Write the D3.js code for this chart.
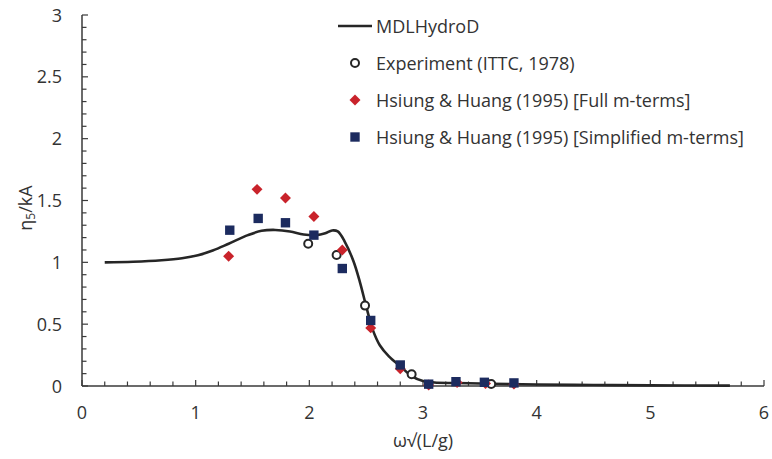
<!DOCTYPE html>
<html>
<head>
<meta charset="utf-8">
<script src="https://cdn.jsdelivr.net/npm/d3@7"></script>
<style>
  html, body { margin: 0; padding: 0; background: #fff; }
  svg { display: block; font-family: "Open Sans", "Noto Sans", sans-serif; }
</style>
</head>
<body>
<svg id="chart" width="772" height="459"></svg>
<script>
// MDLHydroD computed pitch response (non-dimensional frequency vs amplitude)
const mdlFreq = [0.2, 0.45, 0.7, 0.88, 1.02, 1.15, 1.29, 1.46, 1.58, 1.7, 1.83, 1.95, 2.06, 2.14, 2.2, 2.25, 2.31, 2.39, 2.445, 2.5, 2.56, 2.62, 2.7, 2.8, 2.9, 3.0, 3.1, 3.3, 3.6, 4.0, 4.5, 5.0, 5.7];
const mdlAmp  = [1.0, 1.005, 1.017, 1.033, 1.057, 1.095, 1.15, 1.22, 1.255, 1.262, 1.25, 1.225, 1.22, 1.235, 1.258, 1.25, 1.17, 1.005, 0.84, 0.645, 0.45, 0.33, 0.24, 0.16, 0.08, 0.04, 0.028, 0.024, 0.018, 0.012, 0.008, 0.005, 0.003];

// Experiment (ITTC, 1978)
const expFreq = [1.99, 2.24, 2.49, 2.90, 3.60];
const expAmp  = [1.15, 1.06, 0.65, 0.095, 0.016];

// Hsiung & Huang (1995), full m-terms
const fullFreq = [1.29, 1.54, 1.79, 2.04, 2.29, 2.54, 2.80, 3.05, 3.30, 3.55, 3.80];
const fullAmp  = [1.05, 1.59, 1.52, 1.37, 1.10, 0.47, 0.14, 0.008, 0.028, 0.02, 0.015];

// Hsiung & Huang (1995), simplified m-terms
const simpFreq = [1.30, 1.55, 1.79, 2.04, 2.29, 2.54, 2.80, 3.05, 3.29, 3.54, 3.80];
const simpAmp  = [1.26, 1.355, 1.32, 1.22, 0.95, 0.53, 0.17, 0.015, 0.035, 0.03, 0.025];

const xTicks = [0, 1, 2, 3, 4, 5, 6];
const yTicks = [0, 0.5, 1, 1.5, 2, 2.5, 3];

const legendLabels = [
  "MDLHydroD",
  "Experiment (ITTC, 1978)",
  "Hsiung & Huang (1995) [Full m-terms]",
  "Hsiung & Huang (1995) [Simplified m-terms]"
];

const RED = "#c9232b";
const NAVY = "#1c2b5f";
const INK = "#262626";
const AXIS = "#3a3a3a";
const TEXT = "#333333";
const FS = 18;

const svg = d3.select("#chart");
const x = d3.scaleLinear().domain([0, 6]).range([82, 764]);
const y = d3.scaleLinear().domain([0, 3]).range([386, 15]);

// axes: ticks point into the plot, minor ticks between majors
const axisG = svg.append("g").attr("stroke", AXIS).attr("fill", "none");
axisG.append("line").attr("x1", x(0)).attr("x2", x(6)).attr("y1", y(0)).attr("y2", y(0)).attr("stroke-width", 1.5);
axisG.append("line").attr("x1", x(0)).attr("x2", x(0)).attr("y1", y(0)).attr("y2", y(3)).attr("stroke-width", 1.5);

const xMinor = d3.range(0, 31).map(i => i * 0.2);
axisG.selectAll("line.xt").data(xMinor).join("line")
  .attr("class", "xt")
  .attr("x1", d => x(d)).attr("x2", d => x(d))
  .attr("y1", y(0))
  .attr("y2", (d, i) => y(0) - (i % 5 === 0 ? 6 : 4.5))
  .attr("stroke-width", 1.2);

const yMinor = d3.range(0, 31).map(i => i * 0.1);
axisG.selectAll("line.yt").data(yMinor).join("line")
  .attr("class", "yt")
  .attr("y1", d => y(d)).attr("y2", d => y(d))
  .attr("x1", x(0))
  .attr("x2", (d, i) => x(0) + (i % 5 === 0 ? 6 : 4.5))
  .attr("stroke-width", 1.2);

// tick labels
svg.append("g").selectAll("text").data(xTicks).join("text")
  .attr("x", d => x(d)).attr("y", 419)
  .attr("text-anchor", "middle")
  .attr("font-size", FS).attr("fill", TEXT)
  .text(d => d);

svg.append("g").selectAll("text").data(yTicks).join("text")
  .attr("x", 62).attr("y", d => y(d) + 6.5)
  .attr("text-anchor", "end")
  .attr("font-size", FS).attr("fill", TEXT)
  .text(d => d);

// axis titles
svg.append("text")
  .attr("x", 423).attr("y", 447)
  .attr("text-anchor", "middle")
  .attr("font-size", FS).attr("fill", TEXT)
  .text("ω√(L/g)");

const yTitle = svg.append("text")
  .attr("transform", "translate(32,208) rotate(-90)")
  .attr("text-anchor", "middle")
  .attr("font-size", FS).attr("fill", TEXT);
yTitle.append("tspan").text("η");
yTitle.append("tspan").attr("font-size", 12).attr("dy", 3).text("5");
yTitle.append("tspan").attr("dy", -3).text("/kA");

// MDLHydroD curve
const line = d3.line()
  .x((d, i) => x(mdlFreq[i]))
  .y(d => y(d))
  .curve(d3.curveCatmullRom.alpha(0.5));
svg.append("path")
  .datum(mdlAmp)
  .attr("d", line)
  .attr("fill", "none")
  .attr("stroke", INK)
  .attr("stroke-width", 2.6);

// experiment: open circles
svg.append("g").selectAll("circle").data(expAmp).join("circle")
  .attr("cx", (d, i) => x(expFreq[i])).attr("cy", d => y(d))
  .attr("r", 4).attr("fill", "#fff")
  .attr("stroke", INK).attr("stroke-width", 2);

// full m-terms: diamonds
const diamond = d3.symbol().type(d3.symbolSquare).size(60);
svg.append("g").selectAll("path").data(fullAmp).join("path")
  .attr("d", diamond)
  .attr("transform", (d, i) => `translate(${x(fullFreq[i])},${y(d)}) rotate(45)`)
  .attr("fill", RED);

// simplified m-terms: squares
const square = d3.symbol().type(d3.symbolSquare).size(88);
svg.append("g").selectAll("path").data(simpAmp).join("path")
  .attr("d", square)
  .attr("transform", (d, i) => `translate(${x(simpFreq[i])},${y(d)})`)
  .attr("fill", NAVY);

// legend
const legendY = [26, 63, 100, 137];
const lg = svg.append("g");
lg.append("line").attr("x1", 338).attr("x2", 372).attr("y1", legendY[0]).attr("y2", legendY[0])
  .attr("stroke", INK).attr("stroke-width", 2.6);
lg.append("circle").attr("cx", 355).attr("cy", legendY[1]).attr("r", 4)
  .attr("fill", "#fff").attr("stroke", INK).attr("stroke-width", 2);
lg.append("path").attr("d", diamond).attr("transform", `translate(355,${legendY[2]}) rotate(45)`).attr("fill", RED);
lg.append("path").attr("d", square).attr("transform", `translate(355,${legendY[3]})`).attr("fill", NAVY);
lg.selectAll("text").data(legendLabels).join("text")
  .attr("x", 376).attr("y", (d, i) => legendY[i] + 6.5)
  .attr("font-size", FS).attr("fill", TEXT)
  .text(d => d);
</script>
</body>
</html>
